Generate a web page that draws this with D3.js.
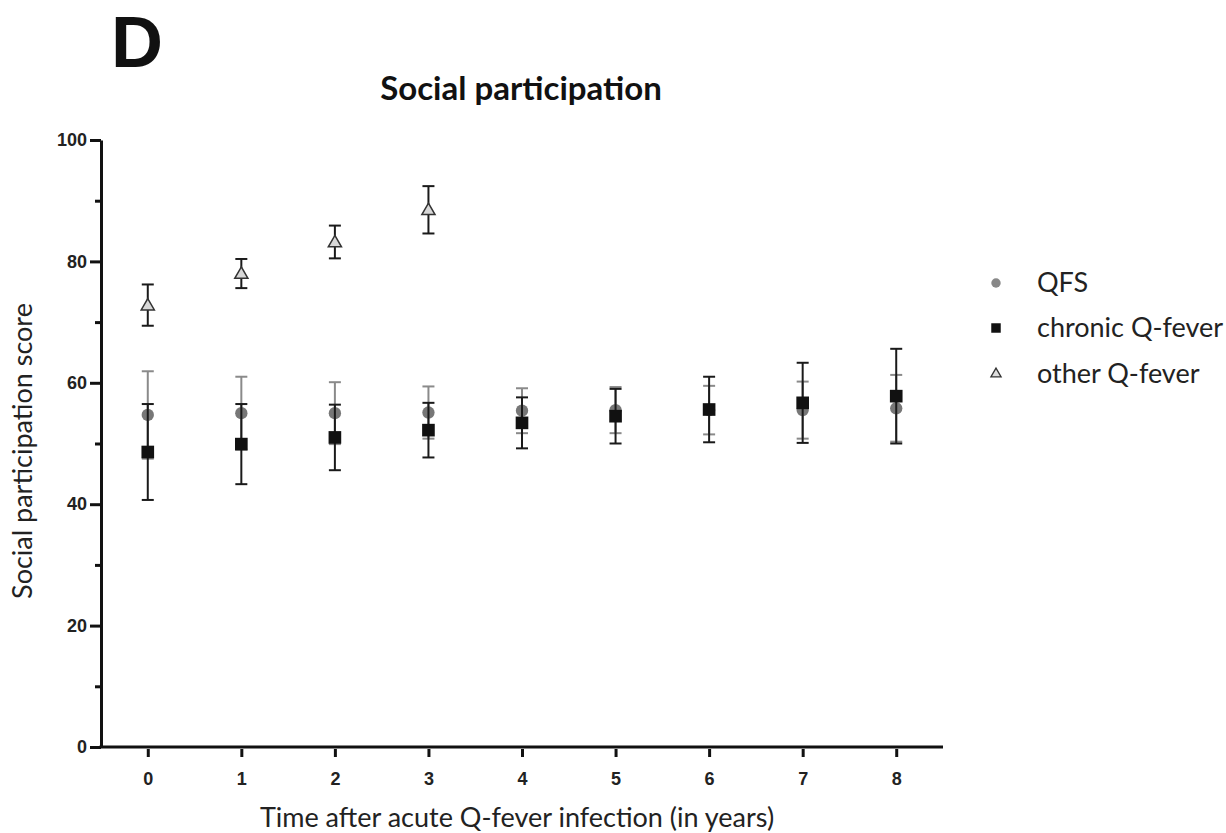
<!DOCTYPE html>
<html>
<head>
<meta charset="utf-8">
<script src="https://cdn.jsdelivr.net/npm/d3@7"></script>
<style>
  html, body { margin: 0; padding: 0; background: #fff; }
  svg { display: block; }
</style>
</head>
<body>
<svg id="chart" width="1226" height="833"></svg>
<script>
// Years since acute Q-fever infection
const years = [0, 1, 2, 3, 4, 5, 6, 7, 8];

// QFS group: mean score and error half-width
const qfsMean = [54.7, 55.0, 55.0, 55.1, 55.4, 55.5, 55.5, 55.5, 55.8];
const qfsErr  = [7.2, 6.0, 5.1, 4.3, 3.7, 3.8, 4.0, 4.7, 5.5];

// Chronic Q-fever group
const chronicMean = [48.6, 49.9, 51.0, 52.2, 53.4, 54.5, 55.6, 56.7, 57.8];
const chronicErr  = [7.9, 6.6, 5.4, 4.5, 4.2, 4.5, 5.4, 6.6, 7.8];

// Other Q-fever group (years 0-3 only)
const otherYears = [0, 1, 2, 3];
const otherMean = [72.8, 78.0, 83.2, 88.5];
const otherErr  = [3.4, 2.4, 2.7, 3.9];

const yMajorTicks = [0, 20, 40, 60, 80, 100];
const yMinorTicks = [10, 30, 50, 70, 90];
const legendLabels = ["QFS", "chronic Q-fever", "other Q-fever"];

const svg = d3.select("#chart");
const plotLeft = 101, plotRight = 943, plotTop = 140, plotBottom = 747;
const textFont = "Lato, 'Open Sans', sans-serif";
const tickFont = "'Liberation Sans', Arial, sans-serif";

const x = d3.scaleLinear().domain([-0.5, 8.5]).range([plotLeft, plotRight]);
const y = d3.scaleLinear().domain([0, 100]).range([plotBottom, plotTop]);

// Panel letter and title
svg.append("text").attr("x", 111).attr("y", 67)
  .attr("font-family", tickFont)
  .attr("font-weight", "bold").attr("font-size", 72).attr("fill", "#111")
  .text("D");
svg.append("text").attr("x", 521).attr("y", 100)
  .attr("text-anchor", "middle")
  .attr("font-family", textFont)
  .attr("font-weight", "bold").attr("font-size", 33).attr("fill", "#111")
  .text("Social participation");

// Y axis: labelled major ticks plus short minor ticks
const yAxis = d3.axisLeft(y).tickValues(yMajorTicks).tickSize(11).tickPadding(3).tickSizeOuter(0);
const gy = svg.append("g").attr("transform", `translate(${plotLeft},0)`).call(yAxis);
gy.select(".domain").attr("stroke", "#111").attr("stroke-width", 3);
gy.selectAll(".tick line").attr("stroke", "#111").attr("stroke-width", 3);
gy.selectAll(".tick text")
  .attr("font-family", tickFont)
  .attr("font-weight", "bold").attr("font-size", 18).attr("fill", "#222");
const yMinor = d3.axisLeft(y).tickValues(yMinorTicks).tickSize(6).tickFormat("").tickSizeOuter(0);
const gyMinor = svg.append("g").attr("transform", `translate(${plotLeft},0)`).call(yMinor);
gyMinor.select(".domain").remove();
gyMinor.selectAll(".tick line").attr("stroke", "#111").attr("stroke-width", 3);

// X axis
const xAxis = d3.axisBottom(x).tickValues(years).tickSize(10).tickPadding(15).tickSizeOuter(0);
const gx = svg.append("g").attr("transform", `translate(0,${plotBottom})`).call(xAxis);
gx.select(".domain").attr("stroke", "#111").attr("stroke-width", 3)
  .attr("d", `M${plotLeft - 1.5},0H${plotRight}`);
gx.selectAll(".tick line").attr("stroke", "#111").attr("stroke-width", 3).attr("y1", 2);
gx.selectAll(".tick text")
  .attr("font-family", tickFont)
  .attr("font-weight", "bold").attr("font-size", 18).attr("fill", "#222");

// Axis titles
svg.append("text")
  .attr("transform", `translate(32,451) rotate(-90)`)
  .attr("text-anchor", "middle")
  .attr("font-family", textFont).attr("font-size", 27).attr("fill", "#222")
  .text("Social participation score");
svg.append("text").attr("x", 517).attr("y", 827)
  .attr("text-anchor", "middle")
  .attr("font-family", textFont).attr("font-size", 27).attr("fill", "#222")
  .text("Time after acute Q-fever infection (in years)");

// Error bars with caps
function errorBars(xs, means, errs, color, width) {
  const g = svg.append("g").attr("stroke", color).attr("stroke-width", width);
  xs.forEach((d, i) => {
    const cx = x(d), hi = y(means[i] + errs[i]), lo = y(means[i] - errs[i]);
    g.append("line").attr("x1", cx).attr("x2", cx).attr("y1", hi).attr("y2", lo);
    g.append("line").attr("x1", cx - 6).attr("x2", cx + 6).attr("y1", hi).attr("y2", hi);
    g.append("line").attr("x1", cx - 6).attr("x2", cx + 6).attr("y1", lo).attr("y2", lo);
  });
}

const circleSym = d3.symbol().type(d3.symbolCircle).size(120);
const squareSym = d3.symbol().type(d3.symbolSquare).size(160);
const triSym = d3.symbol().type(d3.symbolTriangle).size(75);

// QFS
errorBars(years, qfsMean, qfsErr, "#8a8a8a", 2);
svg.append("g").selectAll("path").data(years).join("path")
  .attr("d", circleSym)
  .attr("transform", (d, i) => `translate(${x(d)},${y(qfsMean[i])})`)
  .attr("fill", "#777");

// Chronic Q-fever
errorBars(years, chronicMean, chronicErr, "#1a1a1a", 2);
svg.append("g").selectAll("path").data(years).join("path")
  .attr("d", squareSym)
  .attr("transform", (d, i) => `translate(${x(d)},${y(chronicMean[i])})`)
  .attr("fill", "#111");

// Other Q-fever
errorBars(otherYears, otherMean, otherErr, "#1a1a1a", 2);
svg.append("g").selectAll("path").data(otherYears).join("path")
  .attr("d", triSym)
  .attr("transform", (d, i) => `translate(${x(d)},${y(otherMean[i]) + 1})`)
  .attr("fill", "#d8d8d8").attr("stroke", "#333").attr("stroke-width", 1.5);

// Legend
const legend = svg.append("g");
const legendY = [283, 328, 374];
const legendSyms = [
  g => g.append("path").attr("d", d3.symbol().type(d3.symbolCircle).size(70)).attr("fill", "#888"),
  g => g.append("path").attr("d", d3.symbol().type(d3.symbolSquare).size(90)).attr("fill", "#111"),
  g => g.append("path").attr("d", d3.symbol().type(d3.symbolTriangle).size(45)).attr("fill", "#ddd").attr("stroke", "#333").attr("stroke-width", 1.3)
];
legendLabels.forEach((lab, i) => {
  const g = legend.append("g").attr("transform", `translate(996,${legendY[i]})`);
  legendSyms[i](g);
  legend.append("text").attr("x", 1037).attr("y", legendY[i] + 9)
    .attr("font-family", textFont).attr("font-size", 27).attr("fill", "#222")
    .text(lab);
});
</script>
</body>
</html>
